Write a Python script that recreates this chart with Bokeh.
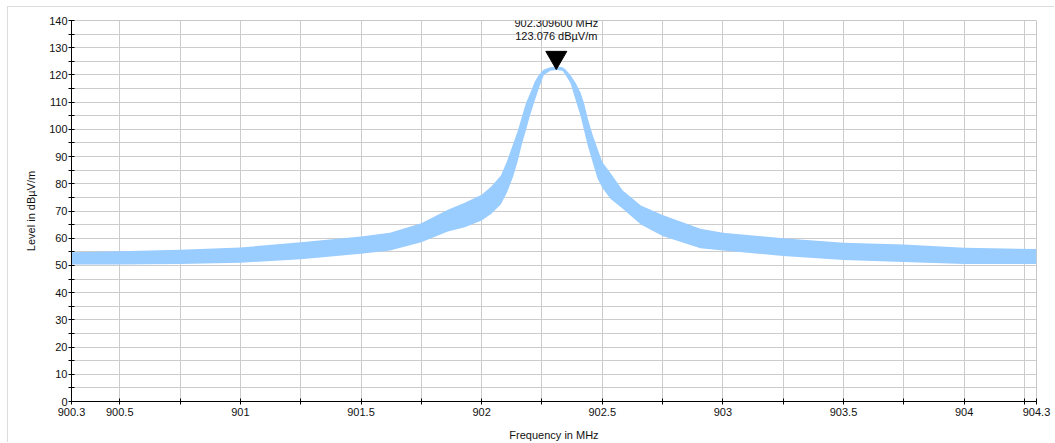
from bokeh.plotting import figure
from bokeh.models import FixedTicker, CustomJSTickFormatter, Range1d
from bokeh.core.properties import value
from bokeh.embed import file_html
from bokeh.resources import INLINE

# ---- data (lower / upper edge of the noisy trace) ----
freq_mhz = [900.30, 900.50, 900.75, 901.00, 901.25, 901.50, 901.62, 901.75, 901.86, 901.93,
            902.00, 902.04, 902.08, 902.105, 902.13, 902.15, 902.168, 902.185, 902.20, 902.22,
            902.237, 902.258, 902.285, 902.31, 902.335, 902.348, 902.368, 902.39, 902.41, 902.425,
            902.44, 902.46, 902.48, 902.50, 902.534, 902.585, 902.66, 902.75, 902.907, 903.00,
            903.25, 903.50, 903.75, 904.00, 904.30]
level_low = [50.3, 50.3, 50.5, 51.0, 52.3, 54.3, 55.5, 58.5, 62.5, 64.0,
             66.5, 69.0, 72.5, 76.8, 82.5, 88.5, 95.0, 100.0, 105.0, 110.5,
             115.0, 120.0, 121.5, 121.8, 121.5, 120.0, 117.0, 110.7, 105.0, 99.5,
             94.0, 88.0, 82.0, 78.5, 74.5, 70.8, 65.0, 60.8, 56.3, 55.5,
             53.5, 52.0, 51.3, 50.5, 50.5]
level_high = [54.8, 55.2, 55.8, 56.6, 58.5, 60.6, 62.0, 65.5, 70.5, 73.0,
              76.0, 79.0, 83.0, 88.3, 94.5, 99.5, 105.0, 110.0, 113.0, 117.5,
              120.0, 122.0, 122.8, 123.1, 122.8, 122.0, 120.0, 117.0, 113.5, 109.5,
              104.0, 98.0, 93.0, 88.0, 84.0, 77.5, 72.0, 68.5, 63.5, 62.0,
              60.0, 58.3, 57.7, 56.5, 56.0]

peak_freq = 902.3096
peak_level = 123.076
peak_labels = ["902.309600 MHz", "123.076 dBµV/m"]

x_major_ticks = [900.3, 900.5, 901.0, 901.5, 902.0, 902.5, 903.0, 903.5, 904.0, 904.3]
x_minor_ticks = [900.75, 901.25, 901.75, 902.25, 902.75, 903.25, 903.75, 904.25]
y_major_ticks = [0, 10, 20, 30, 40, 50, 60, 70, 80, 90, 100, 110, 120, 130, 140]
y_minor_ticks = [5, 15, 25, 35, 45, 55, 65, 75, 85, 95, 105, 115, 125, 135]

x_title = "Frequency in MHz"
y_title = "Level in dBµV/m"

# ---- layout ----
FONT = "Liberation Sans"
frame_h = 381
y_min, y_max = 0, 140

p = figure(width=1047, height=436,
           x_range=Range1d(900.3, 904.3), y_range=Range1d(y_min, y_max),
           output_backend="svg", toolbar_location=None,
           min_border_left=63, min_border_right=19, min_border_top=13, min_border_bottom=42)
p.styles = {"margin-left": "7px", "margin-top": "6px",
            "border-left": "1px solid #dcdcdc", "border-top": "1px solid #dcdcdc"}
p.background_fill_color = "white"
p.border_fill_color = "white"
p.outline_line_color = "#c8c8c8"
p.outline_line_width = 1

# band (spectrum trace envelope)
p.varea(x=freq_mhz, y1=level_low, y2=level_high, fill_color="#99ccff", fill_alpha=1.0)

# marker triangle at peak
px_per_db = frame_h / (y_max - y_min)
tri_size = 21
tip_px = tri_size * 0.5774
marker_y = peak_level + (tip_px - 3) / px_per_db
p.scatter(x=[peak_freq], y=[marker_y], marker="inverted_triangle", size=tri_size,
          fill_color="black", line_color="black", line_width=1)

p.text(x=[peak_freq], y=[peak_level], text=[peak_labels[0]], text_align="center",
       text_baseline="middle", y_offset=-44, text_font=value(FONT), text_font_size="11px",
       text_color="#111111")
p.text(x=[peak_freq], y=[peak_level], text=[peak_labels[1]], text_align="center",
       text_baseline="middle", y_offset=-31, text_font=value(FONT), text_font_size="11px",
       text_color="#111111")

# axes
xa = p.xaxis[0]
xa.ticker = FixedTicker(ticks=x_major_ticks, minor_ticks=x_minor_ticks)
xa.formatter = CustomJSTickFormatter(code="return String(Math.round(tick*100)/100);")
ya = p.yaxis[0]
ya.ticker = FixedTicker(ticks=y_major_ticks, minor_ticks=y_minor_ticks)

xa.axis_label = x_title
ya.axis_label = y_title
for ax in (xa, ya):
    ax.axis_line_color = "black"
    ax.axis_line_width = 1
    ax.major_tick_line_color = "black"
    ax.minor_tick_line_color = "black"
    ax.major_tick_in = 3
    ax.major_tick_out = 3
    ax.minor_tick_in = 3
    ax.minor_tick_out = 3
    ax.major_label_text_font = FONT
    ax.major_label_text_font_size = "11px"
    ax.major_label_text_color = "#111111"
    ax.axis_label_text_font = FONT
    ax.axis_label_text_font_size = "11px"
    ax.axis_label_text_font_style = "normal"
    ax.axis_label_text_color = "#111111"
xa.major_label_standoff = 3
xa.axis_label_standoff = 10
ya.major_label_standoff = 1
ya.axis_label_standoff = 9

# grids
for g in (p.xgrid[0], p.ygrid[0]):
    g.grid_line_color = "#cccccc"
    g.grid_line_width = 1
    g.minor_grid_line_color = "#cccccc"
    g.minor_grid_line_width = 1

open("out.html", "w").write(file_html(p, INLINE))
